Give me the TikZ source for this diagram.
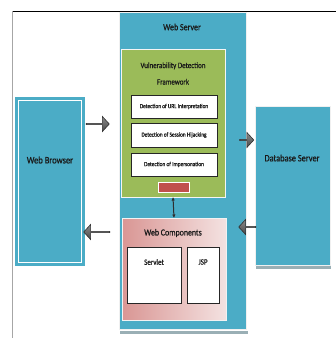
\documentclass[tikz,border=0pt]{standalone}
\usepackage{fontspec}
\setmainfont{Carlito}[FakeStretch=0.85,FakeBold=0.6]
\usetikzlibrary{shapes.arrows,arrows.meta}
\definecolor{tealA}{HTML}{4BACC6}
\definecolor{greenA}{HTML}{9BBB59}
\definecolor{redA}{HTML}{C0504D}
\definecolor{pinkD}{HTML}{D99694}
\definecolor{pinkL}{HTML}{F4E2E1}
\definecolor{arrL}{HTML}{8A8A8A}
\definecolor{arrM}{HTML}{4A4A4A}
\definecolor{arrD}{HTML}{2E2E2E}
\definecolor{shadowG}{HTML}{9AAFB5}
\begin{document}
\begin{tikzpicture}[x=1pt,y=-1pt,
  base/.style={inner sep=0pt, outer sep=0pt, anchor=north west},
  tealbox/.style={base, fill=tealA, draw=white!88!gray, line width=0.9pt},
  greenbox/.style={base, fill=greenA, draw=white!92!gray, line width=0.9pt},
  whitebox/.style={base, fill=white, draw=black!85, line width=0.6pt},
  pinkbox/.style={base, left color=pinkD, right color=pinkL, draw=white!90!gray, line width=0.6pt},
  redbar/.style={base, fill=redA, draw=white, line width=1pt},
  lbl/.style={inner sep=0pt, text=black!90, align=center},
  blockarrow/.style={single arrow, draw=arrD, top color=arrL, bottom color=arrM, line width=0.6pt, inner sep=0pt, outer sep=0pt,
     minimum width=15pt, single arrow head extend=3.5pt, single arrow tip angle=95},
]
\useasboundingbox (0,0) rectangle (336,338);
\fill[white] (0,0) rectangle (336,338);
% frame
\draw[black, line width=0.6pt] (12,11) -- (336,11);
\draw[gray!70, line width=0.8pt] (12,11) -- (12,338);

% Web server
\fill[shadowG] (120,331) rectangle (248,334);
\node[tealbox, minimum width=127pt, minimum height=317pt] (ws) at (119,12) {};
\node[lbl, font=\fontsize{9.4}{10}\selectfont] (wst) at (182,27) {Web Server};

% Framework
\node[greenbox, minimum width=104pt, minimum height=148pt] (fw) at (121,49) {};
\node[lbl, font=\fontsize{8.2}{16.5}\selectfont] (fwt) at (173,73.5) {Vulnerability Detection\\Framework};
\node[whitebox, minimum width=86pt, minimum height=23pt] (d1) at (131,95) {};
\node[lbl, font=\fontsize{6.3}{7}\selectfont] at (d1.center) {Detection of URL Interpretation};
\node[whitebox, minimum width=86pt, minimum height=24pt] (d2) at (131,123) {};
\node[lbl, font=\fontsize{6.3}{7}\selectfont] at (d2.center) {Detection of Session Hijacking};
\node[whitebox, minimum width=86pt, minimum height=23pt] (d3) at (131,153) {};
\node[lbl, font=\fontsize{6.3}{7}\selectfont] at (d3.center) {Detection of Impersonation};
\node[redbar, minimum width=31pt, minimum height=10pt] (rb) at (158,182) {};

% Web components
\node[pinkbox, minimum width=104pt, minimum height=102pt] (wc) at (122,218) {};
\node[lbl, font=\fontsize{9.3}{10}\selectfont] (wct) at (173,233) {Web Components};
\node[whitebox, minimum width=54pt, minimum height=56pt] (sv) at (127,247) {};
\node[lbl, font=\fontsize{8.2}{9}\selectfont] at (154,262) {Servlet};
\node[whitebox, minimum width=32pt, minimum height=56pt] (jsp) at (187,247) {};
\node[lbl, font=\fontsize{8.2}{9}\selectfont] at (203,262) {JSP};

\draw[arrD, line width=1pt, {Latex[length=3.5pt,width=3.5pt]}-{Latex[length=3.5pt,width=3.5pt]}] (fw.south) -- (wc.north);

% Web browser
\node[base, fill=tealA, minimum width=70pt, minimum height=169pt] (wb) at (15,97) {};
\draw[white, line width=0.7pt] (18.5,100.5) rectangle (81.5,262.5);
\node[lbl, font=\fontsize{10}{11}\selectfont] at (50,160) {Web Browser};

% Database server
\fill[shadowG] (256,265) rectangle (331,269);
\node[tealbox, minimum width=75pt, minimum height=159pt] (db) at (255,106) {};
\node[lbl, font=\fontsize{9.8}{11}\selectfont] at (292,158) {Database Server};

% block arrows
\node[blockarrow, minimum height=23pt] (a1) at (97.5,124) {};
\node[blockarrow, minimum height=26pt, shape border rotate=180] (a2) at (97,232) {};
\node[blockarrow, minimum height=14pt] (a3) at (246.5,140) {};
\node[blockarrow, minimum height=17pt, shape border rotate=180] (a4) at (247.5,227) {};
\end{tikzpicture}
\end{document}
